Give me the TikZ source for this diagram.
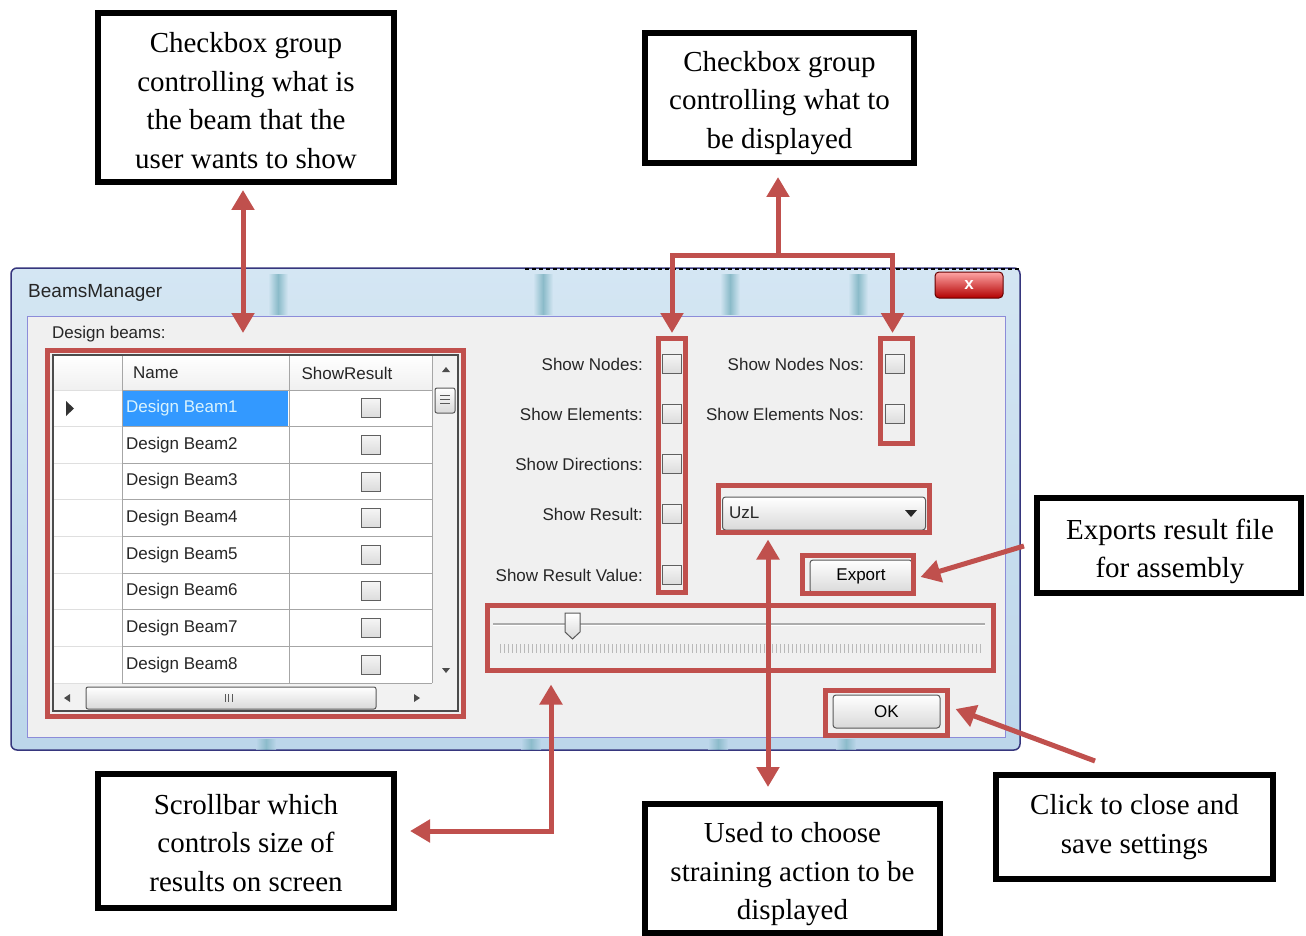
\documentclass[tikz,border=0pt]{standalone}
\usepackage{fontspec}
\setmainfont{Liberation Serif}
\newfontfamily\uifont{Liberation Sans}
\usetikzlibrary{arrows.meta,calc,fit}
\definecolor{redb}{HTML}{C0504D}
\definecolor{selblue}{HTML}{3399FF}
\definecolor{panel}{HTML}{F0F0F0}
\definecolor{winblue}{HTML}{D4E6F3}
\definecolor{winblue2}{HTML}{BCD6EA}
\definecolor{teal1}{HTML}{3F8FA3}
\begin{document}
\begin{tikzpicture}[x=1pt,y=-1pt,
  hl/.style={draw=redb, line width=5pt, inner sep=0pt},
  frame/.style={draw=black, line width=6pt, inner sep=0pt, fill=white},
  ctext/.style={align=center, inner sep=0pt, font=\fontsize{29}{38.5}\selectfont},
  arr/.style={draw=redb, line width=5pt, -{Triangle[length=20pt,width=22pt]}},
  arrboth/.style={draw=redb, line width=5pt, line join=miter,
    {Triangle[length=20pt,width=22pt]}-{Triangle[length=20pt,width=22pt]}},
  ui/.style={font=\uifont\fontsize{17}{20}\selectfont, inner sep=0pt, text=black!85},
  cb/.style={draw=gray!75!black, line width=0.9pt, minimum size=19pt, inner sep=0pt,
    top color=gray!8, bottom color=gray!28},
  btn/.style={draw=gray!70!black, line width=1pt, rounded corners=3pt, inner sep=0pt,
    top color=white, bottom color=gray!30},
  gline/.style={draw=gray!70, line width=0.9pt},
  tri/.style={fill=black!80}
]
\useasboundingbox (0,0) rectangle (1306,936);

% ---------------- window ----------------
\node[draw=gray!60!blue!70!black, line width=1.5pt, rounded corners=6pt,
  top color=winblue, bottom color=winblue2, inner sep=0pt,
  fit={(11,268) (1020,750)}] (win) {};
\foreach \xx in {268,533,720,848}{
  \shade[left color=winblue, right color=winblue, middle color=teal1!70, opacity=0.8]
    (\xx,274) rectangle ++(20,40);
  \shade[left color=winblue2, right color=winblue2, middle color=teal1!70, opacity=0.7]
    (\xx-12,739) rectangle ++(20,10);
}
\draw[black, line width=2.5pt, dash pattern=on 4pt off 3pt] (525,269) -- (1020,269);
\node[ui, anchor=west, font=\uifont\fontsize{19}{22}\selectfont] (title) at (28,293) {BeamsManager};
\node[draw=red!40!black, line width=1pt, rounded corners=4pt, top color=red!35!white,
  bottom color=red!70!black, minimum width=68pt, minimum height=26pt, inner sep=0pt,
  text=white, font=\uifont\bfseries\fontsize{17}{17}\selectfont] (close) at (969,285) {x};

% ---------------- panel ----------------
\node[draw=gray!50!blue!60, line width=1pt, fill=panel, inner sep=0pt,
  fit={(27,316) (1005,737)}] (pnl) {};
\node[ui, anchor=west] (dbeams) at (52,334) {Design beams:};

% ---------------- grid ----------------
\node[draw=black!70, line width=1.2pt, fill=white, inner sep=0pt,
  fit={(53,355) (458,711)}] (grid) {};
\fill[top color=white, bottom color=gray!12] (54,356) rectangle (432,390);
\fill[gray!10] (432,356) rectangle (457,683);
\fill[gray!10] (54,683) rectangle (457,710);
\fill[selblue] (123,391) rectangle (288,426);
\foreach \k in {0,...,8}{
  \draw[gline] (122,{390+36.625*\k}) -- (432,{390+36.625*\k});
  \draw[gray!25, line width=0.8pt] (54,{390+36.625*\k}) -- (122,{390+36.625*\k});
}
\draw[gline] (122,356) -- (122,683);
\draw[gline] (289,356) -- (289,683);
\draw[gline] (432,356) -- (432,683);
\node[ui, anchor=west] (hname) at (133,373) {Name};
\node[ui] (hshow) at (347,373) {ShowResult};
\fill[tri] (66,401) -- (74,408.5) -- (66,416) -- cycle;
\node[ui, anchor=west, text=cyan!15!white] (gname1) at (126,408.3) {Design Beam1};
\node[cb] (gcb1) at (371,408.3) {};
\foreach \k in {2,...,8}{
  \node[ui, anchor=west] (gname\k) at (126,{390+36.625*(\k-0.5)}) {Design Beam\k};
  \node[cb] (gcb\k) at (371,{390+36.625*(\k-0.5)}) {};
}
% vertical scrollbar
\fill[black!70] (442,372) -- (450,372) -- (446,367) -- cycle;
\fill[black!70] (442,668) -- (450,668) -- (446,673) -- cycle;
\node[btn, rounded corners=2pt, minimum width=20pt, minimum height=25pt] (vthumb) at (445,400.5) {};
\foreach \yy in {395,399,403}{\draw[gray!70!black, line width=0.8pt] (440,\yy) -- (450,\yy);}
% horizontal scrollbar
\fill[black!70] (70,694) -- (70,702) -- (64,698) -- cycle;
\fill[black!70] (414,694) -- (414,702) -- (420,698) -- cycle;
\node[btn, rounded corners=2pt, minimum width=290pt, minimum height=22pt] (hthumb) at (231,698) {};
\foreach \xx in {225,228.5,232}{\draw[gray!70!black, line width=0.8pt] (\xx,694) -- (\xx,702);}

% ---------------- checkboxes ----------------
\foreach \lab/\yy/\k in {Show Nodes:/364/1, Show Elements:/414/2, Show Directions:/464/3,
    Show Result:/514/4, Show Result Value:/575/5}{
  \node[ui, anchor=east] (mlab\k) at (643,\yy) {\lab};
  \node[cb] (mcb\k) at (672,\yy) {};
}
\foreach \lab/\yy/\k in {Show Nodes Nos:/364/1, Show Elements Nos:/414/2}{
  \node[ui, anchor=east] (rlab\k) at (864,\yy) {\lab};
  \node[cb] (rcb\k) at (895,\yy) {};
}

% ---------------- combo, buttons, slider ----------------
\node[btn, anchor=west, minimum width=203pt, minimum height=33pt] (combo) at (722,513.5) {};
\node[ui, anchor=west] (uzl) at (729,513) {UzL};
\fill[black!85] (905,510) -- (917,510) -- (911,517) -- cycle;
\node[btn, minimum width=102pt, minimum height=33pt, font=\uifont\fontsize{17}{20}\selectfont]
  (export) at (861,576.5) {Export};
\node[btn, minimum width=107pt, minimum height=33pt, font=\uifont\fontsize{17}{20}\selectfont]
  (ok) at (886.5,711.5) {OK};
\draw[gray!65, line width=1.2pt] (493,624) -- (985,624);
\draw[white, line width=0.8pt] (493,625.5) -- (985,625.5);
\foreach \i in {0,...,120}{\draw[gray!55, line width=0.6pt] ({500+\i*4},644) -- ++(0,9);}
\draw[gray!70!black, line width=1pt, top color=white, bottom color=gray!30]
  (565,613) -- (580,613) -- (580,632) -- (572.5,639) -- (565,632) -- cycle;

% ---------------- highlight boxes ----------------
\node[hl, fit={(47.5,350.5) (463.5,716.5)}] (gridred) {};
\node[hl, fit={(658.5,338.5) (685.5,592.5)}] (midred) {};
\node[hl, fit={(880.5,338.5) (912.5,443.5)}] (rightred) {};
\node[hl, fit={(718.5,485.5) (929.5,532.5)}] (combored) {};
\node[hl, fit={(802.5,555.5) (913.5,593.5)}] (exportred) {};
\node[hl, fit={(487.5,605.5) (993.5,670.5)}] (sliderred) {};
\node[hl, fit={(825.5,690.5) (947.5,735.5)}] (okred) {};

% ---------------- callouts ----------------
\node[frame, minimum width=296pt, minimum height=169pt] (box1) at (246,97.5) {};
\node[ctext] (box1t) at ($(box1)+(0,3)$)
  {Checkbox group\\controlling what is\\the beam that the\\user wants to show};
\node[frame, minimum width=269pt, minimum height=130pt] (box2) at (779.5,98) {};
\node[ctext] (box2t) at ($(box2)+(0,5)$)
  {Checkbox group\\controlling what to\\be displayed};
\node[frame, minimum width=264pt, minimum height=95pt] (box3) at (1169,545.5) {};
\node[ctext] (box3t) at ($(box3)+(1,6)$)
  {Exports result file\\for assembly};
\node[frame, minimum width=296pt, minimum height=134pt] (box4) at (246,841) {};
\node[ctext] (box4t) at ($(box4)+(0,2)$)
  {Scrollbar which\\controls size of\\results on screen};
\node[frame, minimum width=295pt, minimum height=129pt] (box5) at (792.5,868.5) {};
\node[ctext] (box5t) at ($(box5)+(0,6)$)
  {Used to choose\\straining action to be\\displayed};
\node[frame, minimum width=277pt, minimum height=104pt] (box6) at (1134.5,827) {};
\node[ctext] (box6t) at ($(box6)+(0,0)$)
  {Click to close and\\save settings};

% ---------------- connectors ----------------
\draw[arrboth] ($(box1.south)+(-3,5)$) -- ($(gridred.north)+(-12.5,-15)$);
\coordinate (j2) at (778,255);
\draw[arr] (j2) -- ($(box2.south)+(-1.5,11)$);
\draw[arrboth] ($(midred.north)+(0,-3)$) |- (j2) -| ($(rightred.north)+(-4,-3)$);
\draw[arr] ($(box3.west)+(-10,0.5)$) -- ($(exportred.east)+(4.5,2.5)$);
\draw[arr] ($(box6.north)+(-39.5,-11)$) -- ($(okred.east)+(5.5,-4)$);
\draw[arrboth] ($(combored.south)+(-56,4.5)$) -- ($(box5.north)+(-24.5,-14)$);
\draw[arrboth] ($(sliderred.south)+(-189.5,11.5)$) |- ($(box4.east)+(13,-10)$);
\end{tikzpicture}
\end{document}
